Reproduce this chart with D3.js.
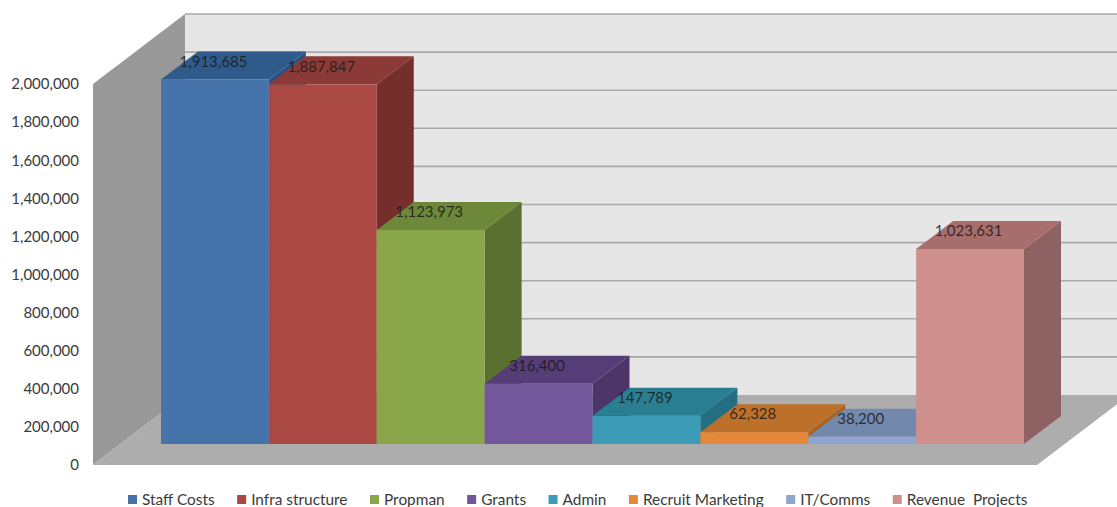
<!DOCTYPE html>
<html>
<head>
<meta charset="utf-8">
<script src="https://cdn.jsdelivr.net/npm/d3@7/dist/d3.min.js"></script>
<style>
  html, body { margin: 0; padding: 0; background: #fff; }
  svg { display: block; }
  text { font-family: Lato, "Open Sans", sans-serif; }
</style>
</head>
<body>
<div id="chart"></div>
<script>
// Budget breakdown drawn as a 3-D column chart
const categories = ["Staff Costs", "Infra structure", "Propman", "Grants", "Admin", "Recruit Marketing", "IT/Comms", "Revenue  Projects"];
const values = [1913685, 1887847, 1123973, 316400, 147789, 62328, 38200, 1023631];
const tickValues = [0, 200000, 400000, 600000, 800000, 1000000, 1200000, 1400000, 1600000, 1800000, 2000000];

const frontColors = ["#4673a9", "#aa4843", "#8aa64b", "#72589a", "#3c9cb8", "#e5883a", "#8fa6d3", "#cf908d"];
const topColors = ["#2f5b8c", "#8c3a38", "#6c8838", "#553d78", "#2a7e92", "#bd7029", "#7388ad", "#a86e6e"];
const sideColors = ["#2c527f", "#752e2c", "#5a7030", "#4b3569", "#236e80", "#a86324", "#5f7293", "#8e6262"];

const width = 1117, height = 507;

// Chart box: front plane of the floor and the offset to the back wall
const frontLeft = 93, frontRight = 1037;
const depthX = 92, depthY = -70;
// Columns sit partway into the box and occupy a slice of its depth
const barInsetY = -21, barDepthX = 37, barDepthY = -28;

const y = d3.scaleLinear().domain([0, 2000000]).range([465, 84]);
const x = d3.scaleBand().domain(categories).range([161, 1024]).padding(0);
const h = v => y(0) - y(v);

const svg = d3.select("#chart").append("svg").attr("width", width).attr("height", height);
const poly = pts => pts.map(p => p.join(",")).join(" ");

const floorFront = y(0);
const wallBottom = floorFront + depthY;
const wallTop = y(2000000) + depthY;
const wallLeft = frontLeft + depthX;
const wallRight = frontRight + depthX;

// Back wall
svg.append("rect")
  .attr("x", wallLeft).attr("y", wallTop)
  .attr("width", wallRight - wallLeft).attr("height", wallBottom - wallTop)
  .attr("fill", "#e6e6e6");

// Horizontal gridlines on the back wall
svg.append("g").selectAll("line")
  .data(tickValues.filter(t => t > 0))
  .join("line")
  .attr("x1", wallLeft).attr("x2", wallRight)
  .attr("y1", d => y(d) + depthY).attr("y2", d => y(d) + depthY)
  .attr("stroke", "#a9a9a9").attr("stroke-width", 1.6);

// Side wall
svg.append("polygon")
  .attr("points", poly([[frontLeft, y(2000000)], [wallLeft, wallTop], [wallLeft, wallBottom], [frontLeft, floorFront]]))
  .attr("fill", "#999999");

// Floor
svg.append("polygon")
  .attr("points", poly([[frontLeft, floorFront], [wallLeft, wallBottom], [wallRight, wallBottom], [frontRight, floorFront]]))
  .attr("fill", "#adadad");

// Columns, painted left to right so each one overlaps its neighbour's side
const base = floorFront + barInsetY;
const bars = svg.append("g").selectAll("g")
  .data(categories.map((c, i) => ({ c, v: values[i], i })))
  .join("g");

bars.append("polygon")
  .attr("fill", d => sideColors[d.i])
  .attr("points", d => {
    const r = x(d.c) + x.bandwidth(), t = base - h(d.v);
    return poly([[r, t], [r + barDepthX, t + barDepthY], [r + barDepthX, base + barDepthY], [r, base]]);
  });

bars.append("polygon")
  .attr("fill", d => topColors[d.i])
  .attr("points", d => {
    const l = x(d.c), r = l + x.bandwidth(), t = base - h(d.v);
    return poly([[l, t], [l + barDepthX, t + barDepthY], [r + barDepthX, t + barDepthY], [r, t]]);
  });

bars.append("rect")
  .attr("x", d => x(d.c))
  .attr("y", d => base - h(d.v))
  .attr("width", x.bandwidth())
  .attr("height", d => h(d.v))
  .attr("fill", d => frontColors[d.i]);

// Value labels sit on the top face of each column
svg.append("g").selectAll("text")
  .data(categories.map((c, i) => ({ c, v: values[i] })))
  .join("text")
  .attr("x", d => x(d.c) + x.bandwidth() / 2 - 1.5)
  .attr("y", d => base - h(d.v) - 18)
  .attr("dy", "0.35em")
  .attr("text-anchor", "middle")
  .attr("font-size", 15)
  .attr("fill", "#1a1a1a")
  .attr("fill-opacity", 0.85)
  .text(d => d3.format(",")(d.v));

// Value axis along the front edge of the side wall
const axis = d3.axisLeft(y).tickValues(tickValues).tickFormat(d3.format(",")).tickSize(0).tickPadding(0);
const axisG = svg.append("g").attr("transform", "translate(79,0)").call(axis);
axisG.select(".domain").remove();
axisG.selectAll("text")
  .attr("font-family", "Lato, sans-serif")
  .attr("font-size", 15)
  .attr("fill", "#3a3a3a");

// Legend: swatch and label pairs flowing left to right
const legend = svg.append("g");
let cursor = 128;
categories.forEach((c, i) => {
  legend.append("rect")
    .attr("x", cursor).attr("y", 495)
    .attr("width", 9).attr("height", 9)
    .attr("fill", frontColors[i]);
  const label = legend.append("text")
    .attr("x", cursor + 14).attr("y", 499.5)
    .attr("dy", "0.35em")
    .attr("font-size", 15.4)
    .attr("xml:space", "preserve")
    .style("white-space", "pre")
    .attr("fill", "#3a3a3a")
    .text(c);
  cursor += 14 + label.node().getComputedTextLength() + 22.5;
});
</script>
</body>
</html>
